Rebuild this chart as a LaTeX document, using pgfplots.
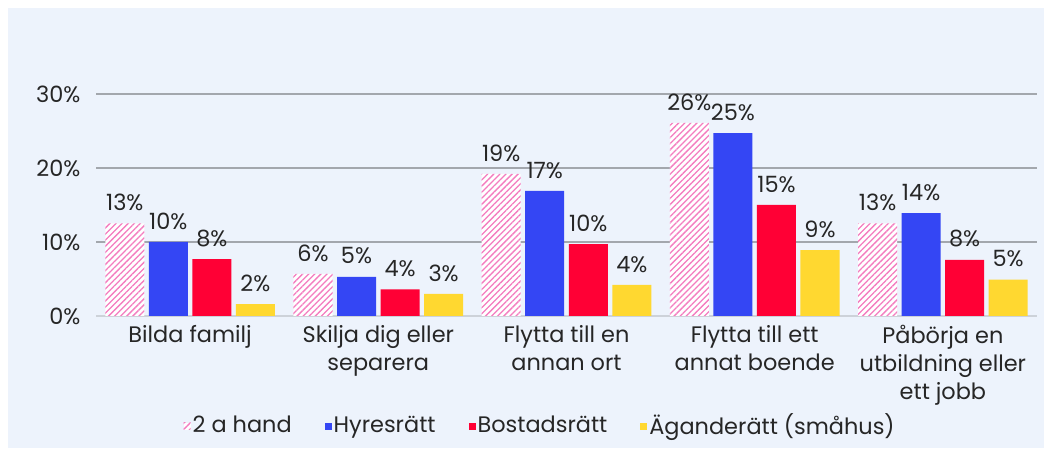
\documentclass[border=0pt]{standalone}
\usepackage{pgfplots}
\pgfplotsset{compat=1.18}
\usepackage{fontspec}
\setmainfont{Poppins}
\usetikzlibrary{patterns.meta}
\definecolor{bg}{HTML}{EDF3FC}
\definecolor{cblue}{HTML}{3446F4}
\definecolor{cred}{HTML}{FF0035}
\definecolor{cyellow}{HTML}{FFD830}
\definecolor{cpink}{HTML}{F47CBF}
\definecolor{gridc}{HTML}{A3A7AD}
\definecolor{zeroc}{HTML}{CDD2D9}
\definecolor{txt}{HTML}{262626}
\newcommand{\lblfont}{\fontsize{22.5}{28}\selectfont}
\begin{document}
\begin{tikzpicture}
\useasboundingbox (0,0) rectangle (1049bp,455bp);
\fill[white] (0,0) rectangle (1049bp,455bp);
\fill[bg] (8bp,7bp) rectangle (1044bp,447bp);
\begin{axis}[
  at={(96bp,139bp)}, anchor=south west,
  scale only axis, width=941bp, height=222bp,
  xmin=-0.5, xmax=4.5, ymin=0, ymax=30,
  clip=false,
  axis line style={draw=none},
  major tick length=0pt,
  ytick={10,20,30}, yticklabels={10\%,20\%,30\%},
  extra y ticks={0}, extra y tick labels={0\%},
  extra y tick style={grid style={draw=zeroc, line width=1.2bp}},
  ymajorgrids, grid style={draw=gridc, line width=1.1bp},
  xtick={0,1,2,3,4},
  xticklabels={Bilda familj, {Skilja dig eller\\separera}, {Flytta till en\\annan ort}, {Flytta till ett\\annat boende}, {Påbörja en\\utbildning eller\\ett jobb}},
  xticklabel style={align=center, font=\lblfont, text=txt, yshift=-6bp},
  yticklabel style={font=\lblfont, text=txt, xshift=-12bp},
  ybar, bar width=0.2074,
  point meta=explicit symbolic,
  nodes near coords={\pgfplotspointmeta\%},
  nodes near coords style={font=\lblfont, text=txt, anchor=south, yshift=9bp},
  legend columns=4,
  legend style={at={(0.472,-0.49)}, anchor=center, draw=none, fill=none, font=\lblfont, text=txt,
    /tikz/every even column/.append style={column sep=31bp}},
  legend image code/.code={\path[#1, draw=none] (3bp,-5bp) rectangle (10bp,2bp);},
]
\addplot[bar shift=-0.347, draw=none, fill=white, postaction={pattern={Lines[angle=45,distance=4.3bp,line width=1.3bp]}, pattern color=cpink}]
  coordinates {(0,12.5)[13] (1,5.7)[6] (2,19.2)[19] (3,26.1)[26] (4,12.5)[13]};
\addplot[bar shift=-0.1157, draw=none, fill=cblue]
  coordinates {(0,10.0)[10] (1,5.3)[5] (2,16.9)[17] (3,24.7)[25] (4,13.9)[14]};
\addplot[bar shift=0.1157, draw=none, fill=cred]
  coordinates {(0,7.7)[8] (1,3.6)[4] (2,9.7)[10] (3,15.0)[15] (4,7.6)[8]};
\addplot[bar shift=0.347, draw=none, fill=cyellow]
  coordinates {(0,1.6)[2] (1,3.0)[3] (2,4.2)[4] (3,8.9)[9] (4,4.9)[5]};
\legend{2 a hand, Hyresrätt, Bostadsrätt, Äganderätt (småhus)}
\end{axis}
\end{tikzpicture}
\end{document}
